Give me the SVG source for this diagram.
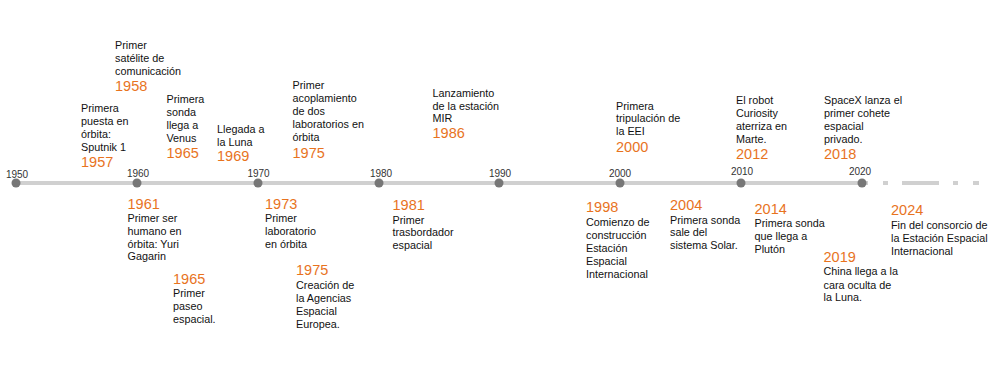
<svg xmlns="http://www.w3.org/2000/svg" width="1000" height="373" viewBox="0 0 1000 373">
<style>
  .t{font-family:"Liberation Sans",Arial,sans-serif;font-size:10.8px;fill:#111}
  .y{font-family:"Liberation Sans",Arial,sans-serif;font-size:14.5px;fill:#E8731E}
  .a{font-family:"Liberation Sans",Arial,sans-serif;font-size:10px;fill:#333;text-anchor:middle}
  .dot{fill:#777}
  .ln{fill:#d0d0d0}
</style>
<rect width="1000" height="373" fill="#fff"/>
<g id="connectors">
  <rect class="ln" x="16" y="181" width="852" height="4"/>
  <rect class="ln" x="883" y="181" width="5" height="4"/>
  <rect class="ln" x="902" y="181" width="37" height="4"/>
  <rect class="ln" x="953" y="181" width="5" height="4"/>
  <rect class="ln" x="973" y="181" width="6" height="4"/>
</g>
<g id="axis">
  <circle class="dot" cx="16" cy="183" r="4.5"/>
  <circle class="dot" cx="137" cy="183" r="4.5"/>
  <circle class="dot" cx="258" cy="183" r="4.5"/>
  <circle class="dot" cx="379" cy="183" r="4.5"/>
  <circle class="dot" cx="499" cy="183" r="4.5"/>
  <circle class="dot" cx="620" cy="183" r="4.5"/>
  <circle class="dot" cx="741" cy="183" r="4.5"/>
  <circle class="dot" cx="862" cy="183" r="4.5"/>
  <text class="a" x="17" y="178">1950</text>
  <text class="a" x="138" y="177">1960</text>
  <text class="a" x="258.5" y="177">1970</text>
  <text class="a" x="381" y="177">1980</text>
  <text class="a" x="500" y="177">1990</text>
  <text class="a" x="620" y="177">2000</text>
  <text class="a" x="742" y="175">2010</text>
  <text class="a" x="860" y="175">2020</text>
</g>
<g id="e1957">
  <text class="t" x="81" y="112">Primera</text>
  <text class="t" x="81" y="125">puesta en</text>
  <text class="t" x="81" y="138">órbita:</text>
  <text class="t" x="81" y="151">Sputnik 1</text>
  <text class="y" x="81" y="167">1957</text>
</g>
<g id="e1958">
  <text class="t" x="115" y="49">Primer</text>
  <text class="t" x="115" y="62">satélite de</text>
  <text class="t" x="115" y="75">comunicación</text>
  <text class="y" x="115" y="91">1958</text>
</g>
<g id="e1965a">
  <text class="t" x="166.5" y="103">Primera</text>
  <text class="t" x="166.5" y="115.5">sonda</text>
  <text class="t" x="166.5" y="128.5">llega a</text>
  <text class="t" x="166.5" y="141.5">Venus</text>
  <text class="y" x="166.5" y="158">1965</text>
</g>
<g id="e1969">
  <text class="t" x="217" y="133">Llegada a</text>
  <text class="t" x="217" y="145.5">la Luna</text>
  <text class="y" x="217" y="161">1969</text>
</g>
<g id="e1975a">
  <text class="t" x="292.5" y="89">Primer</text>
  <text class="t" x="292.5" y="102">acoplamiento</text>
  <text class="t" x="292.5" y="115">de dos</text>
  <text class="t" x="292.5" y="127.5">laboratorios en</text>
  <text class="t" x="292.5" y="141">órbita</text>
  <text class="y" x="292.5" y="157.5">1975</text>
</g>
<g id="e1986">
  <text class="t" x="432.5" y="96.5">Lanzamiento</text>
  <text class="t" x="432.5" y="109.5">de la estación</text>
  <text class="t" x="432.5" y="122">MIR</text>
  <text class="y" x="432.5" y="137.5">1986</text>
</g>
<g id="e2000">
  <text class="t" x="616" y="109.5">Primera</text>
  <text class="t" x="616" y="122">tripulación de</text>
  <text class="t" x="616" y="135">la EEI</text>
  <text class="y" x="616" y="152">2000</text>
</g>
<g id="e2012">
  <text class="t" x="736" y="103.5">El robot</text>
  <text class="t" x="736" y="116.5">Curiosity</text>
  <text class="t" x="736" y="129.5">aterriza en</text>
  <text class="t" x="736" y="142.5">Marte.</text>
  <text class="y" x="736" y="158.5">2012</text>
</g>
<g id="e2018">
  <text class="t" x="824" y="103.5">SpaceX lanza el</text>
  <text class="t" x="824" y="116.5">primer cohete</text>
  <text class="t" x="824" y="129.5">espacial</text>
  <text class="t" x="824" y="142.5">privado.</text>
  <text class="y" x="824" y="158.5">2018</text>
</g>
<g id="e1961">
  <text class="y" x="127.5" y="208.5">1961</text>
  <text class="t" x="127.5" y="222">Primer ser</text>
  <text class="t" x="127.5" y="234.5">humano en</text>
  <text class="t" x="127.5" y="247.5">órbita: Yuri</text>
  <text class="t" x="127.5" y="260">Gagarin</text>
</g>
<g id="e1965b">
  <text class="y" x="173" y="283.5">1965</text>
  <text class="t" x="173" y="297">Primer</text>
  <text class="t" x="173" y="309.5">paseo</text>
  <text class="t" x="173" y="322.5">espacial.</text>
</g>
<g id="e1973">
  <text class="y" x="265" y="208.5">1973</text>
  <text class="t" x="265" y="222">Primer</text>
  <text class="t" x="265" y="234.5">laboratorio</text>
  <text class="t" x="265" y="247.5">en órbita</text>
</g>
<g id="e1975b">
  <text class="y" x="296" y="275">1975</text>
  <text class="t" x="296" y="289">Creación de</text>
  <text class="t" x="296" y="302">la Agencias</text>
  <text class="t" x="296" y="314.5">Espacial</text>
  <text class="t" x="296" y="327.5">Europea.</text>
</g>
<g id="e1981">
  <text class="y" x="392.5" y="209.5">1981</text>
  <text class="t" x="392.5" y="223.5">Primer</text>
  <text class="t" x="392.5" y="236">trasbordador</text>
  <text class="t" x="392.5" y="249">espacial</text>
</g>
<g id="e1998">
  <text class="y" x="586" y="212">1998</text>
  <text class="t" x="586" y="226">Comienzo de</text>
  <text class="t" x="586" y="238.5">construcción</text>
  <text class="t" x="586" y="252">Estación</text>
  <text class="t" x="586" y="265">Espacial</text>
  <text class="t" x="586" y="277.5">Internacional</text>
</g>
<g id="e2004">
  <text class="y" x="670" y="209.5">2004</text>
  <text class="t" x="670" y="223.5">Primera sonda</text>
  <text class="t" x="670" y="236">sale del</text>
  <text class="t" x="670" y="248.5">sistema Solar.</text>
</g>
<g id="e2014">
  <text class="y" x="754.5" y="213.5">2014</text>
  <text class="t" x="754.5" y="227">Primera sonda</text>
  <text class="t" x="754.5" y="240">que llega a</text>
  <text class="t" x="754.5" y="253">Plutón</text>
</g>
<g id="e2019">
  <text class="y" x="823.5" y="262">2019</text>
  <text class="t" x="823.5" y="275">China llega a la</text>
  <text class="t" x="823.5" y="288.5">cara oculta de</text>
  <text class="t" x="823.5" y="301">la Luna.</text>
</g>
<g id="e2024">
  <text class="y" x="891" y="215">2024</text>
  <text class="t" x="891" y="228.5">Fin del consorcio de</text>
  <text class="t" x="891" y="242">la Estación Espacial</text>
  <text class="t" x="891" y="254.5">Internacional</text>
</g>
</svg>
